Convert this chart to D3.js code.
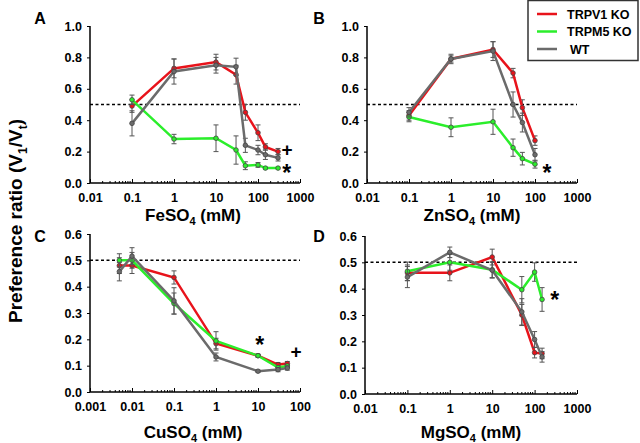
<!DOCTYPE html>
<html>
<head>
<meta charset="utf-8">
<script src="https://cdn.jsdelivr.net/npm/d3@7"></script>
<style>
  body { margin: 0; background: #fff; }
  text { font-family: "Liberation Sans", Arial, sans-serif; font-weight: bold; fill: #000; }
</style>
</head>
<body>
<div id="chart"></div>
<script>
// ---- data ----
const seriesNames = ["TRPV1 KO", "TRPM5 KO", "WT"];

// A: FeSO4
const feConc = [0.1, 1, 10, 30, 50, 100, 150, 300];
const feTRPV1 = [0.49, 0.73, 0.77, 0.69, 0.45, 0.32, 0.23, 0.20];
const feTRPV1Err = [0.04, 0.06, 0.05, 0.06, 0.05, 0.05, 0.02, 0.02];
const feTRPM5 = [0.53, 0.28, 0.285, 0.21, 0.11, 0.115, 0.095, 0.095];
const feTRPM5Err = [0.03, 0.03, 0.085, 0.09, 0.025, 0.015, 0.005, 0.005];
const feWT = [0.38, 0.71, 0.75, 0.74, 0.24, 0.21, 0.18, 0.16];
const feWTErr = [0.08, 0.08, 0.05, 0.055, 0.045, 0.03, 0.03, 0.02];

// B: ZnSO4
const znConc = [0.1, 1, 10, 30, 50, 100];
const znTRPV1 = [0.43, 0.79, 0.85, 0.70, 0.48, 0.27];
const znTRPV1Err = [0.03, 0.02, 0.05, 0.03, 0.05, 0.03];
const znTRPM5 = [0.42, 0.355, 0.39, 0.225, 0.155, 0.12];
const znTRPM5Err = [0.03, 0.06, 0.08, 0.055, 0.04, 0.025];
const znWT = [0.45, 0.79, 0.84, 0.50, 0.385, 0.18];
const znWTErr = [0.03, 0.03, 0.06, 0.08, 0.06, 0.04];

// C: CuSO4
const cuConc = [0.005, 0.01, 0.1, 1, 10, 30, 50];
const cuTRPV1 = [0.48, 0.48, 0.435, 0.184, 0.138, 0.104, 0.108];
const cuTRPV1Err = [0.03, 0.03, 0.025, 0.02, 0.005, 0.008, 0.008];
const cuTRPM5 = [0.50, 0.50, 0.336, 0.194, 0.138, 0.093, 0.099];
const cuTRPM5Err = [0.025, 0.03, 0.04, 0.035, 0.005, 0.006, 0.006];
const cuWT = [0.457, 0.516, 0.346, 0.133, 0.079, 0.085, 0.091];
const cuWTErr = [0.035, 0.032, 0.05, 0.015, 0.004, 0.008, 0.008];

// D: MgSO4
const mgConc = [0.1, 1, 10, 50, 100, 150];
const mgTRPV1 = [0.46, 0.46, 0.52, 0.30, 0.157, 0.154];
const mgTRPV1Err = [0.03, 0.03, 0.03, 0.04, 0.02, 0.02];
const mgTRPM5 = [0.466, 0.50, 0.472, 0.396, 0.463, 0.359];
const mgTRPM5Err = [0.035, 0.03, 0.03, 0.05, 0.035, 0.045];
const mgWT = [0.444, 0.538, 0.47, 0.312, 0.207, 0.141];
const mgWTErr = [0.04, 0.02, 0.03, 0.05, 0.03, 0.02];

const colours = ["#e8131b", "#2bee2b", "#6b6b6b"];

function main() {
    const width = 640, height = 443;

    const svg = d3.select("#chart").append("svg")
        .attr("width", width)
        .attr("height", height);

    const panels = [
        { letter: "A", salt: "FeSO", conc: feConc, xDom: [0.01, 1000], xr: [90, 300], yr: [183, 26], yMax: 1.0, yStep: 0.2,
          lx: 40, ly: 24, xlx: 193, xly: 221,
          series: [[feTRPV1, feTRPV1Err], [feTRPM5, feTRPM5Err], [feWT, feWTErr]],
          marks: [{ x: 490, y: 0.21, s: "+" }, { x: 480, y: 0.097, s: "*" }] },
        { letter: "B", salt: "ZnSO", conc: znConc, xDom: [0.01, 1000], xr: [367, 577], yr: [183, 26], yMax: 1.0, yStep: 0.2,
          lx: 319, ly: 24, xlx: 472, xly: 221,
          series: [[znTRPV1, znTRPV1Err], [znTRPM5, znTRPM5Err], [znWT, znWTErr]],
          marks: [{ x: 193, y: 0.097, s: "*" }] },
        { letter: "C", salt: "CuSO", conc: cuConc, xDom: [0.001, 100], xr: [90, 300], yr: [392, 234], yMax: 0.6, yStep: 0.1,
          lx: 40, ly: 242, xlx: 193, xly: 438,
          series: [[cuTRPV1, cuTRPV1Err], [cuTRPM5, cuTRPM5Err], [cuWT, cuWTErr]],
          marks: [{ x: 11, y: 0.197, s: "*" }, { x: 80, y: 0.152, s: "+" }] },
        { letter: "D", salt: "MgSO", conc: mgConc, xDom: [0.01, 1000], xr: [365, 577], yr: [394, 236], yMax: 0.6, yStep: 0.1,
          lx: 319, ly: 242, xlx: 471, xly: 438,
          series: [[mgTRPV1, mgTRPV1Err], [mgTRPM5, mgTRPM5Err], [mgWT, mgWTErr]],
          marks: [{ x: 300, y: 0.376, s: "*" }] }
    ];

    panels.forEach(p => {
        const x = d3.scaleLog().domain(p.xDom).range(p.xr);
        const y = d3.scaleLinear().domain([0, p.yMax]).range(p.yr);
        const g = svg.append("g");

        // y axis
        const yTicks = d3.range(0, p.yMax + 1e-9, p.yStep);
        const yAxis = g.append("g")
            .attr("transform", `translate(${p.xr[0]},0)`)
            .call(d3.axisLeft(y).tickValues(yTicks).tickFormat(d3.format(".1f")).tickSize(3).tickPadding(5));
        yAxis.select(".domain").attr("stroke", "#000").attr("stroke-width", 1.5).attr("d", `M0,${p.yr[1]}V${p.yr[0]}`);
        yAxis.selectAll("text").style("font-size", "12.5px").attr("fill", "#000");

        // x axis: ticks point inward, minor ticks shorter
        const decades = x.ticks().filter(t => Math.abs(Math.log10(t) - Math.round(Math.log10(t))) < 1e-6);
        const xAxis = g.append("g")
            .attr("transform", `translate(0,${p.yr[0]})`)
            .call(d3.axisBottom(x).tickValues(decades).tickFormat(d => String(+d.toPrecision(1))).tickSize(-4).tickPadding(10));
        xAxis.select(".domain").attr("stroke", "#000").attr("stroke-width", 1.5).attr("d", `M${p.xr[0]},0H${p.xr[1]}`);
        xAxis.selectAll("text").style("font-size", "12.5px").attr("fill", "#000");
        const minors = x.ticks().filter(t => !decades.includes(t));
        xAxis.selectAll(".minor").data(minors).enter().append("line")
            .attr("x1", d => x(d)).attr("x2", d => x(d))
            .attr("y1", 0).attr("y2", -2)
            .attr("stroke", "#000").attr("stroke-width", 1);

        // dashed 0.5 reference
        g.append("line")
            .attr("x1", p.xr[0]).attr("x2", p.xr[1])
            .attr("y1", y(0.5)).attr("y2", y(0.5))
            .attr("stroke", "#000").attr("stroke-width", 1.5)
            .attr("stroke-dasharray", "3,2.5");

        // series
        [0, 1, 2].forEach(si => {
            const vals = p.series[si][0], errs = p.series[si][1];
            const pts = p.conc.map((c, i) => ({ c: c, v: vals[i], e: errs[i] }));
            const sg = g.append("g");

            sg.selectAll(".err").data(pts).enter().append("path")
                .attr("d", d => {
                    const cx = x(d.c), y1 = y(d.v - d.e), y2 = y(d.v + d.e);
                    return `M${cx},${y1}V${y2}M${cx - 2.5},${y1}H${cx + 2.5}M${cx - 2.5},${y2}H${cx + 2.5}`;
                })
                .attr("stroke", "#555").attr("stroke-width", 1).attr("fill", "none");

            sg.append("path")
                .datum(pts)
                .attr("d", d3.line().x(d => x(d.c)).y(d => y(d.v)))
                .attr("fill", "none")
                .attr("stroke", colours[si])
                .attr("stroke-width", 2.5);

            sg.selectAll(".dot").data(pts).enter().append("circle")
                .attr("cx", d => x(d.c)).attr("cy", d => y(d.v))
                .attr("r", 2.3)
                .attr("fill", colours[si])
                .attr("stroke", "#444").attr("stroke-width", 0.8);
        });

        // significance marks
        p.marks.forEach(m => {
            g.append("text")
                .attr("x", x(m.x))
                .attr("y", y(m.y) + (m.s === "*" ? 13 : 6))
                .attr("text-anchor", "middle")
                .attr("fill", "#000")
                .style("font-size", m.s === "*" ? "23px" : "19px")
                .text(m.s);
        });

        // panel letter
        g.append("text")
            .attr("x", p.lx).attr("y", p.ly)
            .attr("text-anchor", "middle")
            .style("font-size", "16px")
            .text(p.letter);

        // x label with subscript
        const xl = g.append("text")
            .attr("x", p.xlx).attr("y", p.xly)
            .attr("text-anchor", "middle")
            .style("font-size", "17px");
        xl.append("tspan").text(p.salt);
        xl.append("tspan").attr("dy", 4).style("font-size", "11px").text("4");
        xl.append("tspan").attr("dy", -4).text(" (mM)");
    });

    // shared y label
    const yl = svg.append("text")
        .attr("transform", "translate(22,221) rotate(-90)")
        .attr("text-anchor", "middle")
        .style("font-size", "19px");
    yl.append("tspan").text("Preference ratio (V");
    yl.append("tspan").attr("dy", 5).style("font-size", "12px").text("1");
    yl.append("tspan").attr("dy", -5).text("/V");
    yl.append("tspan").attr("dy", 5).style("font-size", "12px").text("t");
    yl.append("tspan").attr("dy", -5).text(")");

    // legend
    const legend = svg.append("g").attr("transform", "translate(528,0)");
    legend.append("rect")
        .attr("x", 0).attr("y", 0.5).attr("width", 110).attr("height", 60)
        .attr("fill", "#fff").attr("stroke", "#333").attr("stroke-width", 1.5);
    seriesNames.forEach((name, i) => {
        const ly = 14 + i * 17.5;
        legend.append("line")
            .attr("x1", 9).attr("x2", 29).attr("y1", ly).attr("y2", ly)
            .attr("stroke", colours[i]).attr("stroke-width", 2.5);
        legend.append("text")
            .attr("x", i === 2 ? 42 : 39).attr("y", ly + 4.5)
            .style("font-size", "12.5px")
            .text(name);
    });
}

main();
</script>
</body>
</html>
